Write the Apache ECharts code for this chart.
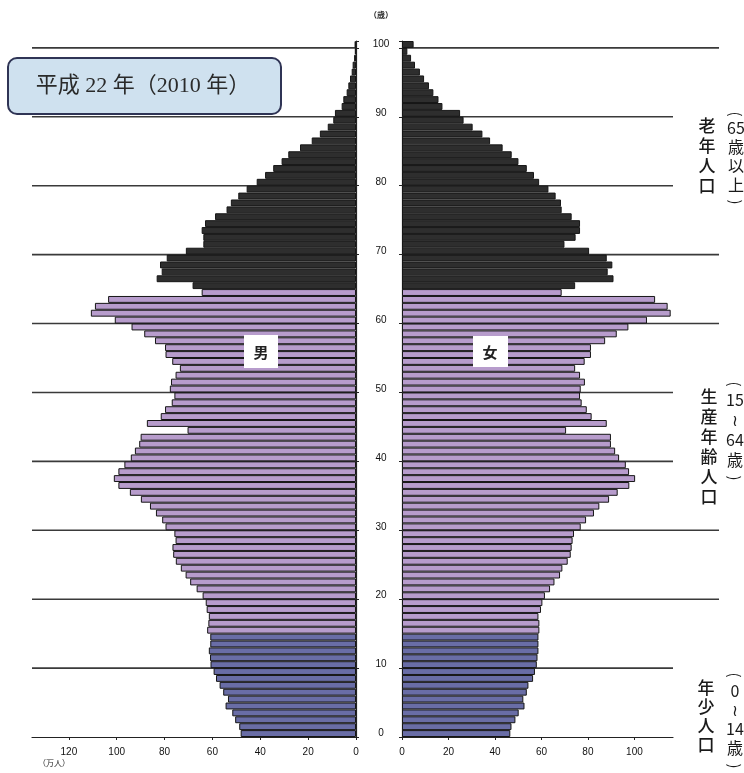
<!DOCTYPE html>
<html>
<head>
<meta charset="utf-8">
<script src="https://cdn.jsdelivr.net/npm/echarts@6/dist/echarts.min.js"></script>
<style>
  html, body { margin: 0; padding: 0; background: #fff; }
  #chart { width: 744px; height: 773px; }
</style>
</head>
<body>
<div id="chart"></div>
<script>
// 年齢 0..100（100 は 100歳以上）
var ages = [];
for (var i = 0; i <= 100; i++) ages.push(String(i));

// 男（万人）, 年齢 0 から順に
var male = [
  48.2, 48.8, 50.5, 51.7, 54.5, 53.5, 55.5, 57.0, 58.5, 59.5,
  60.8, 61.0, 61.5, 60.9, 60.9, 62.2, 61.7, 61.5, 62.4, 62.8,
  64.1, 66.6, 69.3, 71.2, 73.2, 75.3, 76.4, 76.7, 75.4, 75.9,
  79.6, 81.0, 83.6, 86.1, 89.9, 94.5, 99.3, 101.2, 99.3, 96.8,
  94.1, 92.4, 90.6, 90.0, 70.4, 87.4, 81.6, 79.8, 77.0, 75.9,
  77.8, 77.3, 75.4, 73.6, 76.8, 79.6, 79.8, 84.0, 88.5, 93.8,
  100.8, 110.8, 109.1, 103.6, 64.5, 68.3, 83.3, 81.2, 81.9, 79.1,
  71.1, 63.8, 63.8, 64.5, 63.1, 58.9, 54.1, 52.3, 49.2, 45.7,
  41.5, 38.0, 34.6, 31.1, 28.3, 23.4, 18.5, 15.1, 11.8, 9.5,
  8.8, 6.0, 5.3, 3.9, 3.2, 2.5, 1.8, 1.4, 0.8, 0.5,
  0.6
];

// 女（万人）
var female = [
  46.6, 47.1, 48.8, 50.2, 52.7, 52.2, 53.7, 54.4, 56.4, 57.2,
  58.0, 58.3, 58.7, 58.7, 58.7, 59.1, 59.1, 58.7, 59.8, 60.4,
  61.5, 63.7, 65.6, 68.0, 69.0, 71.3, 72.6, 73.0, 73.4, 74.0,
  76.9, 79.2, 82.6, 84.9, 89.1, 92.8, 97.8, 100.3, 97.7, 96.3,
  93.4, 91.7, 89.9, 89.9, 70.6, 88.1, 81.6, 79.5, 77.3, 76.6,
  76.9, 78.7, 76.6, 74.5, 78.6, 81.3, 81.3, 87.4, 92.4, 97.4,
  105.4, 115.6, 114.3, 108.9, 68.7, 74.5, 91.0, 88.5, 90.5, 88.1,
  80.5, 69.9, 74.7, 76.6, 76.6, 73.0, 68.7, 68.4, 66.1, 63.0,
  59.0, 56.8, 53.7, 50.1, 47.2, 43.3, 37.9, 34.6, 30.4, 26.5,
  25.0, 17.4, 15.7, 13.5, 11.6, 9.5, 7.7, 5.6, 3.9, 2.3,
  5.0
];

var leftTicks = [0, 20, 40, 60, 80, 100, 120];
var rightTicks = [0, 20, 40, 60, 80, 100];
var refAges = [10, 20, 30, 40, 50, 60, 70, 80, 90, 100];
var longRightAges = [20, 30, 60, 70, 100];

var LEFT_MAX = 135.4, RIGHT_MAX = 116.6, RIGHT_LONG = 136.4;
var C_YOUNG = '#696da6', C_WORK = '#b79ccc', C_OLD = '#2e2e2e';

function ageColor(a) {
  if (a <= 14) return C_YOUNG;
  if (a <= 64) return C_WORK;
  return C_OLD;
}
function barData(arr) {
  return arr.map(function (v, a) {
    return { value: v, itemStyle: { color: ageColor(a) } };
  });
}

var leftLines = refAges.map(function (a) { return [0, LEFT_MAX, a]; });
var rightLines = refAges.map(function (a) {
  return [0, longRightAges.indexOf(a) >= 0 ? RIGHT_LONG : RIGHT_MAX, a];
});

function lineItem(params, api) {
  var idx = api.value(2);
  var p1 = api.coord([api.value(0), idx]);
  var p2 = api.coord([api.value(1), idx]);
  var half = api.size([0, 1])[1] / 2;
  return {
    type: 'line',
    shape: { x1: p1[0], y1: p1[1] + half, x2: p2[0], y2: p2[1] + half },
    style: { stroke: '#3a3a3a', lineWidth: 1.6 }
  };
}

var labelFont = { fontSize: 10, color: '#111', fontFamily: 'Liberation Sans, Arial, sans-serif' };
var colFont = '"Noto Sans CJK JP", sans-serif';

// 縦書きの列（文字列・中心位置）
function vText(x, y, text, lh, size, weight) {
  return {
    type: 'text', x: x, y: y, z: 11,
    style: {
      text: text, fill: '#1a1a1a', font: (weight || 'normal') + ' ' + size + 'px ' + colFont,
      lineHeight: lh, align: 'center', verticalAlign: 'middle'
    }
  };
}
// 縦書き用の括弧（横向きの括弧を回転）
function vParen(x, y, ch) {
  return {
    type: 'text', x: x, y: y, z: 11, rotation: -Math.PI / 2,
    style: { text: ch, fill: '#1a1a1a', font: '15px ' + colFont, align: 'center', verticalAlign: 'middle' }
  };
}

var chart = echarts.init(document.getElementById('chart'));
chart.setOption({
  animation: false,
  backgroundColor: '#fff',
  grid: [
    { left: 32, right: 388, top: 41, bottom: 36, outerBoundsMode: 'none' },
    { left: 402, right: 71, top: 41, bottom: 36, outerBoundsMode: 'none' }
  ],
  xAxis: [
    {
      type: 'value', gridIndex: 0, inverse: true, min: 0, max: LEFT_MAX,
      axisLine: { show: true, lineStyle: { color: '#222', width: 1.2 } },
      axisTick: { show: true, customValues: leftTicks, length: 3, lineStyle: { color: '#222' } },
      axisLabel: Object.assign({ customValues: leftTicks, margin: 10 }, labelFont),
      splitLine: { show: false }
    },
    {
      type: 'value', gridIndex: 1, min: 0, max: RIGHT_MAX,
      axisLine: { show: true, lineStyle: { color: '#222', width: 1.2 } },
      axisTick: { show: true, customValues: rightTicks, length: 3, lineStyle: { color: '#222' } },
      axisLabel: Object.assign({ customValues: rightTicks, margin: 10 }, labelFont),
      splitLine: { show: false }
    }
  ],
  yAxis: [
    {
      type: 'category', gridIndex: 0, position: 'right', data: ages,
      axisLine: { show: true, lineStyle: { color: '#222', width: 1.2 } },
      axisTick: { show: true, interval: 9, length: 3, lineStyle: { color: '#222' } },
      axisLabel: { show: false },
      splitLine: { show: false }
    },
    {
      type: 'category', gridIndex: 1, position: 'left', data: ages,
      axisLine: { show: true, lineStyle: { color: '#222', width: 1.2 } },
      axisTick: { show: true, interval: 9, length: 3, lineStyle: { color: '#222' } },
      axisLabel: Object.assign({ interval: 9, align: 'center', margin: 21 }, labelFont),
      splitLine: { show: false }
    }
  ],
  series: [
    {
      type: 'custom', xAxisIndex: 0, yAxisIndex: 0, z: 1, clip: false,
      encode: { x: [0, 1], y: 2 }, renderItem: lineItem, data: leftLines
    },
    {
      type: 'custom', xAxisIndex: 1, yAxisIndex: 1, z: 1, clip: false,
      encode: { x: [0, 1], y: 2 }, renderItem: lineItem, data: rightLines
    },
    {
      name: '男', type: 'bar', xAxisIndex: 0, yAxisIndex: 0, z: 3,
      barCategoryGap: '0%',
      itemStyle: { borderColor: '#161616', borderWidth: 1 },
      data: barData(male)
    },
    {
      name: '女', type: 'bar', xAxisIndex: 1, yAxisIndex: 1, z: 3,
      barCategoryGap: '0%',
      itemStyle: { borderColor: '#161616', borderWidth: 1 },
      data: barData(female)
    }
  ],
  graphic: [
    {
      type: 'rect', left: 7, top: 57, z: 10,
      shape: { width: 273, height: 56, r: 9 },
      style: { fill: '#cfe1ef', stroke: '#2f3455', lineWidth: 2 }
    },
    {
      type: 'text', x: 143, y: 86, z: 11,
      style: {
        text: '平成 22 年（2010 年）', fill: '#2a2a2a',
        font: '22px "Liberation Serif", "Noto Sans CJK JP", serif',
        align: 'center', verticalAlign: 'middle'
      }
    },
    { type: 'text', x: 381, y: 15, z: 11,
      style: { text: '（歳）', fill: '#222', font: 'bold 8px "Noto Sans CJK JP", sans-serif', align: 'center', verticalAlign: 'middle' } },
    { type: 'text', x: 54, y: 763, z: 11,
      style: { text: '（万人）', fill: '#222', font: '8px "Noto Sans CJK JP", sans-serif', align: 'center', verticalAlign: 'middle' } },
    { type: 'rect', left: 244, top: 335, z: 10, shape: { width: 34, height: 33 }, style: { fill: '#fff' } },
    { type: 'text', x: 261, y: 352, z: 11,
      style: { text: '男', fill: '#222', font: 'bold 15px "Noto Sans CJK JP", sans-serif', align: 'center', verticalAlign: 'middle' } },
    { type: 'rect', left: 473, top: 336, z: 10, shape: { width: 35, height: 31 }, style: { fill: '#fff' } },
    { type: 'text', x: 490, y: 352, z: 11,
      style: { text: '女', fill: '#222', font: 'bold 15px "Noto Sans CJK JP", sans-serif', align: 'center', verticalAlign: 'middle' } },

    // 老年人口（65歳以上）
    vText(707, 156, '老\n年\n人\n口', 20, 17, 500),
    vParen(736, 114, '('),
    vText(736, 156, '65\n歳\n以\n上', 19, 16),
    vParen(736, 202, ')'),

    // 生産年齢人口（15～64歳）
    vText(709, 447, '生\n産\n年\n齢\n人\n口', 20, 17, 500),
    vParen(735, 384, '('),
    vText(735, 430, '15\n≀\n64\n歳', 20, 16),
    vParen(735, 478, ')'),

    // 年少人口（0～14歳）
    vText(706, 716, '年\n少\n人\n口', 19, 17, 500),
    vParen(735, 675, '('),
    vText(735, 719, '0\n≀\n14\n歳', 19, 16),
    vParen(735, 766, ')')
  ]
});
</script>
</body>
</html>
